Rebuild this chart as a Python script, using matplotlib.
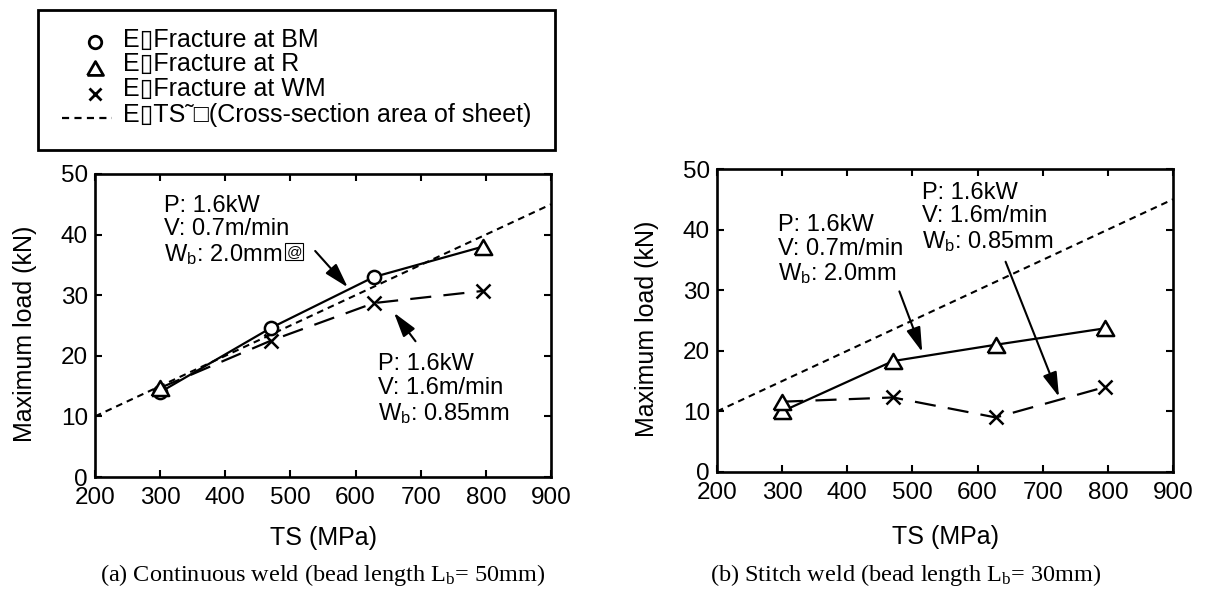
import matplotlib
matplotlib.use("Agg")
import matplotlib.pyplot as plt
from matplotlib.lines import Line2D
from matplotlib.patches import Rectangle, FancyArrowPatch

plt.rcParams['font.family'] = ['Liberation Sans', 'DejaVu Sans']
plt.rcParams['mathtext.fontset'] = 'custom'
plt.rcParams['mathtext.rm'] = 'Liberation Sans'

# ---------------- data ----------------
ts_points = [300, 470, 628, 795]

# (a) continuous weld
a_wide_load = [14.0, 24.6, 33.0, 38.0]          # Wb 2.0mm (solid)
a_wide_mark = ['o', 'o', 'o', 'tri']
a_narrow_load = [14.7, 22.5, 28.7, 30.7]        # Wb 0.85mm (dashed)
a_narrow_mark = ['tri', 'x', 'x', 'x']

# (b) stitch weld
b_wide_load = [10.0, 18.3, 21.0, 23.7]
b_wide_mark = ['tri', 'tri', 'tri', 'tri']
b_narrow_load = [11.6, 12.3, 9.0, 14.0]
b_narrow_mark = ['tri', 'x', 'x', 'x']

# TS x cross-section area of sheet
ts_line = [200, 900]
ts_line_load = [10.0, 45.0]

x_ticks = [200, 300, 400, 500, 600, 700, 800, 900]
y_ticks = [0, 10, 20, 30, 40, 50]

legend_labels = ["E\u25AFFracture at BM", "E\u25AFFracture at R",
                 "E\u25AFFracture at WM",
                 "E\u25AFTS\u02DC\u25A1(Cross-section area of sheet)"]

note_wide = "P: 1.6kW\nV: 0.7m/min\n$\\mathregular{W_b}$: 2.0mm"
note_narrow = "P: 1.6kW\nV: 1.6m/min\n$\\mathregular{W_b}$: 0.85mm"

captions = ["(a) Continuous weld (bead length $\\mathregular{L_b}$= 50mm)",
            "(b) Stitch weld (bead length $\\mathregular{L_b}$= 30mm)"]

# ---------------- style ----------------
TRI = [(-1, -0.866), (1, -0.866), (0, 0.866), (-1, -0.866)]
def mk(m):
    return TRI if m == 'tri' else m
def msize(m):
    return 12.5 if m == 'tri' else 9.5

W, H = 1205, 589
fig = plt.figure(figsize=(W / 100, H / 100), dpi=100)

def px_axes(x0, y0, x1, y1):
    return fig.add_axes([x0 / W, 1 - y1 / H, (x1 - x0) / W, (y1 - y0) / H])

axA = px_axes(95, 174, 551, 477)
axB = px_axes(717, 169, 1173, 472)

def draw_series(ax, loads, marks, dashes):
    ax.plot(ts_points, loads, color='black', lw=1.6,
            linestyle=(0, dashes) if dashes else '-', zorder=3)
    for x, y, m in zip(ts_points, loads, marks):
        ax.plot([x], [y], linestyle='none', marker=mk(m), ms=msize(m),
                mfc='white' if m != 'x' else 'black', mec='black', mew=1.8,
                zorder=4)

def arrow(ax, start, end):
    ax.add_patch(FancyArrowPatch(start, end,
                 arrowstyle='-|>,head_length=0.75,head_width=0.22',
                 mutation_scale=20, color='black', lw=1.5,
                 shrinkA=0, shrinkB=0, zorder=5))

for ax, xlab_y in ((axA, -0.200), (axB, -0.215)):
    ax.plot(ts_line, ts_line_load, color='black', lw=1.5,
            linestyle=(0, (3.2, 2.4)), zorder=2)
    ax.set_xlim(200, 900)
    ax.set_ylim(0, 50)
    ax.set_xticks(x_ticks)
    ax.set_yticks(y_ticks)
    ax.tick_params(direction='in', length=5, width=1.5, top=True, right=True,
                   labelsize=17.5)
    ax.tick_params(axis='x', pad=7)
    ax.tick_params(axis='y', pad=5)
    for s in ax.spines.values():
        s.set_linewidth(1.9)
    ax.set_xlabel("TS (MPa)", fontsize=18, va='center')
    ax.xaxis.set_label_coords(0.5, xlab_y)
    ax.set_ylabel("Maximum load (kN)", fontsize=18, va='center')
    ax.yaxis.set_label_coords(-70 / 456, 0.473)

draw_series(axA, a_wide_load, a_wide_mark, None)
draw_series(axA, a_narrow_load, a_narrow_mark, (9.5, 5.5))
draw_series(axB, b_wide_load, b_wide_mark, None)
draw_series(axB, b_narrow_load, b_narrow_mark, (9.5, 5.5))

# annotations (a)
axA.text(306, 46.6, note_wide, fontsize=17, va='top', ha='left', linespacing=1.1)
axA.text(506, 37.2, "@", fontsize=11, ha='center', va='center',
         bbox=dict(boxstyle='square,pad=0.08', fc='none', ec='black', lw=0.8))
axA.text(634, 20.4, note_narrow, fontsize=17, va='top', ha='left', linespacing=1.1)
arrow(axA, (538, 37.3), (588, 31.3))
arrow(axA, (692, 22.4), (659, 27.1))

# annotations (b)
axB.text(293, 42.6, note_wide, fontsize=17, va='top', ha='left', linespacing=1.1)
axB.text(515, 47.9, note_narrow, fontsize=17, va='top', ha='left', linespacing=1.1)
arrow(axB, (480, 29.8), (515, 19.8))
arrow(axB, (643, 34.7), (725, 12.4))

# legend box (manual)
fig.add_artist(Rectangle((38 / W, 1 - 150 / H), 517 / W, 140 / H,
                         transform=fig.transFigure, fill=False,
                         ec='black', lw=2))
rows_text = [40, 64, 89, 115]
rows_mark = [42, 68, 94, 118]
fig.add_artist(Line2D([95 / W], [1 - rows_mark[0] / H], transform=fig.transFigure,
                      marker='o', ms=9, mfc='white', mec='black', mew=2,
                      linestyle='none'))
fig.add_artist(Line2D([95 / W], [1 - rows_mark[1] / H], transform=fig.transFigure,
                      marker=TRI, ms=11.5, mfc='white', mec='black', mew=2,
                      linestyle='none'))
fig.add_artist(Line2D([95 / W], [1 - rows_mark[2] / H], transform=fig.transFigure,
                      marker='x', ms=9, mec='black', mew=2, linestyle='none'))
fig.add_artist(Line2D([62 / W, 112 / W], [1 - rows_mark[3] / H] * 2,
                      transform=fig.transFigure, color='black', lw=1.6,
                      linestyle=(0, (3.2, 2.4))))
for lab, ry in zip(legend_labels, rows_text):
    fig.text(123 / W, 1 - ry / H, lab, fontsize=18, ha='left', va='center')

# captions
fig.text(323 / W, 1 - 575 / H, captions[0], fontsize=17.5, ha='center', va='center',
         family=['Liberation Serif', 'DejaVu Serif'])
fig.text(710 / W, 1 - 575 / H, captions[1], fontsize=17.5, ha='left', va='center',
         family=['Liberation Serif', 'DejaVu Serif'])

fig.savefig("out.png", dpi=100)
